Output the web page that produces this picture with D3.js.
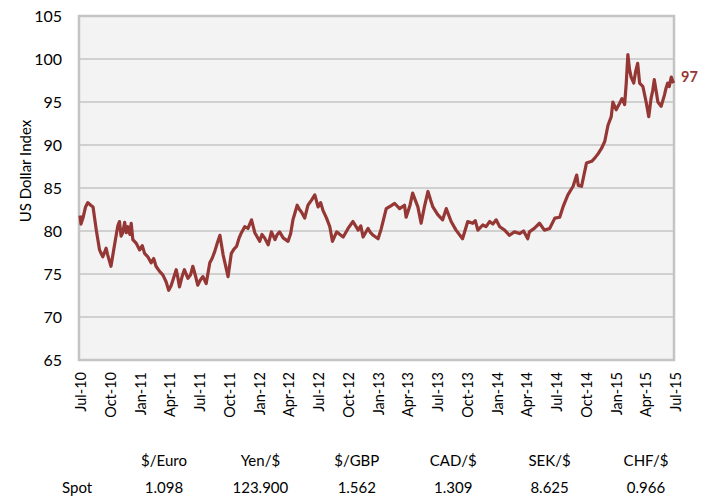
<!DOCTYPE html>
<html>
<head>
<meta charset="utf-8">
<script src="https://cdn.jsdelivr.net/npm/d3@7"></script>
<style>
  body { margin: 0; background: #fff; }
  svg { display: block; font-family: Lato, "Open Sans", sans-serif; }
</style>
</head>
<body>
<svg id="chart" width="710" height="499"></svg>
<script>
// dollar index (approx every 1-2 weeks)
var dates = [
  "2010-07-01","2010-07-04","2010-07-10","2010-07-18","2010-07-25","2010-08-03","2010-08-10","2010-08-20","2010-08-30",
  "2010-09-05","2010-09-09","2010-09-19","2010-09-24","2010-10-04","2010-10-15","2010-10-20","2010-10-25","2010-10-30",
  "2010-11-04","2010-11-09","2010-11-15","2010-11-20","2010-11-25","2010-12-01","2010-12-05","2010-12-10","2010-12-20",
  "2010-12-31","2011-01-08","2011-01-15","2011-01-25","2011-02-04","2011-02-12","2011-02-19","2011-03-02","2011-03-12",
  "2011-03-22","2011-03-30","2011-04-06","2011-04-12","2011-04-22","2011-04-27","2011-05-02","2011-05-10","2011-05-17",
  "2011-05-28","2011-06-05","2011-06-12","2011-06-20","2011-06-27","2011-07-05","2011-07-13","2011-07-23","2011-08-03",
  "2011-08-10","2011-08-18","2011-08-26","2011-09-03","2011-09-13","2011-09-28","2011-10-08","2011-10-16","2011-10-24",
  "2011-11-01","2011-11-08","2011-11-18","2011-11-28","2011-12-09","2011-12-19","2012-01-03","2012-01-10","2012-01-18",
  "2012-01-29","2012-02-08","2012-02-19","2012-02-26","2012-03-04","2012-03-15","2012-03-30","2012-04-07","2012-04-14",
  "2012-04-27","2012-05-04","2012-05-10","2012-05-20","2012-05-30","2012-06-10","2012-06-20","2012-06-30","2012-07-08",
  "2012-07-15","2012-07-26","2012-08-05","2012-08-13","2012-08-26","2012-09-05","2012-09-15","2012-09-30","2012-10-15",
  "2012-10-31","2012-11-08","2012-11-15","2012-11-30","2012-12-08","2012-12-16","2012-12-31","2013-01-10","2013-01-25",
  "2013-02-07","2013-02-20","2013-03-07","2013-03-22","2013-03-27","2013-04-08","2013-04-16","2013-05-02","2013-05-12",
  "2013-05-22","2013-06-02","2013-06-10","2013-06-17","2013-07-02","2013-07-17","2013-07-28","2013-08-12","2013-08-27",
  "2013-09-16","2013-10-02","2013-10-17","2013-10-25","2013-11-02","2013-11-17","2013-11-27","2013-12-08","2013-12-18",
  "2013-12-28","2014-01-08","2014-01-23","2014-02-07","2014-02-22","2014-03-10","2014-03-22","2014-04-04","2014-04-09",
  "2014-04-24","2014-05-10","2014-05-25","2014-06-10","2014-06-26","2014-07-11","2014-07-21","2014-08-05","2014-08-21",
  "2014-09-01","2014-09-06","2014-09-16","2014-10-01","2014-10-17","2014-10-27","2014-11-06","2014-11-16","2014-11-26",
  "2014-12-06","2014-12-16","2014-12-21","2014-12-31","2015-01-10","2015-01-18","2015-01-26","2015-01-31","2015-02-05",
  "2015-02-10","2015-02-15","2015-02-23","2015-03-01","2015-03-07","2015-03-13","2015-03-23","2015-04-02","2015-04-10",
  "2015-04-17","2015-04-22","2015-04-27","2015-05-03","2015-05-08","2015-05-18","2015-05-28","2015-06-02","2015-06-07",
  "2015-06-12","2015-06-18","2015-06-25"
];
var values = [
  81.8,80.8,81.5,82.8,83.3,83.0,82.8,80.1,77.8,
  77.3,77.0,78.0,77.2,75.9,78.4,79.5,80.6,81.1,
  79.4,79.8,81.0,79.8,80.5,79.6,80.9,79.0,78.6,
  77.8,78.3,77.4,77.0,76.3,76.8,75.9,75.3,74.9,
  74.1,73.1,73.6,74.3,75.5,74.6,73.5,74.7,75.5,
  74.5,74.9,75.9,74.8,73.7,74.3,74.7,73.9,76.3,
  76.8,77.6,78.6,79.5,77.2,74.7,77.4,77.9,78.2,
  79.2,79.8,80.5,80.3,81.3,79.8,78.8,79.6,79.2,
  78.4,79.9,79.0,79.6,79.9,79.2,78.8,79.7,81.3,
  83.0,82.5,82.2,81.5,83.0,83.6,84.2,82.8,83.3,
  82.4,81.5,80.5,78.8,79.9,79.6,79.3,80.3,81.1,
  80.1,80.6,79.3,80.3,79.8,79.5,79.1,80.3,82.6,
  82.9,83.2,82.6,83.0,81.6,83.0,84.4,82.8,80.9,
  82.8,84.6,83.6,82.8,81.9,81.3,82.6,81.1,80.1,
  79.1,81.1,80.9,81.2,80.1,80.7,80.5,81.1,80.8,
  81.3,80.5,80.1,79.5,79.9,79.7,80.0,79.1,79.9,
  80.3,80.9,80.1,80.3,81.5,81.6,82.8,84.2,85.2,
  86.5,85.3,85.2,87.9,88.1,88.5,89.0,89.6,90.4,
  92.3,93.3,95.0,94.1,94.8,95.4,94.7,97.2,100.5,
  98.8,97.9,97.2,98.6,99.5,97.2,96.8,95.0,93.3,
  95.4,96.3,97.6,96.2,95.0,94.5,95.8,96.6,97.2,
  96.8,97.9,97.2
];
var lastLabel = "97";

var yTicks = [65, 70, 75, 80, 85, 90, 95, 100, 105];

// spot table under the chart
var currencies = ["$/Euro", "Yen/$", "$/GBP", "CAD/$", "SEK/$", "CHF/$"];
var spot = ["1.098", "123.900", "1.562", "1.309", "8.625", "0.966"];

var red = "#953735";
var svg = d3.select("#chart");
var parse = d3.timeParse("%Y-%m-%d");

var data = dates.map(function(d, i) {
  return { date: parse(d), value: values[i] };
});

var plot = { left: 79, right: 674, top: 16, bottom: 360 };

var x = d3.scaleTime()
  .domain([new Date(2010, 6, 1), new Date(2015, 6, 1)])
  .range([80, 675.5]);
var y = d3.scaleLinear()
  .domain([65, 105])
  .range([plot.bottom, plot.top]);

// plot background
svg.append("rect")
  .attr("x", plot.left)
  .attr("y", plot.top)
  .attr("width", plot.right - plot.left)
  .attr("height", plot.bottom - plot.top)
  .attr("fill", "#f3f3f3");

// gridlines
svg.append("g")
  .selectAll("line")
  .data(yTicks.slice(1, -1))
  .enter()
  .append("line")
  .attr("x1", plot.left)
  .attr("x2", plot.right)
  .attr("y1", function(d) { return y(d); })
  .attr("y2", function(d) { return y(d); })
  .attr("stroke", "#c4c4c4")
  .attr("stroke-width", 1.3);

// border
svg.append("rect")
  .attr("x", plot.left)
  .attr("y", plot.top)
  .attr("width", plot.right - plot.left)
  .attr("height", plot.bottom - plot.top)
  .attr("fill", "none")
  .attr("stroke", "#c4c4c4")
  .attr("stroke-width", 2.5);

// y axis
var yAxis = svg.append("g")
  .attr("transform", "translate(" + (plot.left - 15) + ",0)")
  .call(d3.axisLeft(y).tickValues(yTicks).tickSize(0).tickPadding(2));
yAxis.select(".domain").remove();
yAxis.selectAll("text")
  .attr("font-size", 16)
  .attr("font-family", "Lato, sans-serif")
  .attr("fill", "#000");

svg.append("text")
  .attr("transform", "translate(31,171) rotate(-90)")
  .attr("text-anchor", "middle")
  .attr("font-size", 15)
  .attr("fill", "#000")
  .text("US Dollar Index");

// x axis, quarterly
var xTicks = d3.timeMonth.every(3).range(new Date(2010, 6, 1), new Date(2015, 6, 2));
var xAxis = svg.append("g")
  .attr("transform", "translate(0," + (plot.bottom + 12) + ")")
  .call(d3.axisBottom(x).tickValues(xTicks).tickFormat(d3.timeFormat("%b-%y")).tickSize(0).tickPadding(0));
xAxis.select(".domain").remove();
xAxis.selectAll("text")
  .attr("font-size", 14.5)
  .attr("font-family", "Lato, sans-serif")
  .attr("fill", "#000")
  .attr("text-anchor", "end")
  .attr("dy", "0.35em")
  .attr("transform", "rotate(-90)")
  .attr("x", 0)
  .attr("y", 0);

// the line
var line = d3.line()
  .x(function(d) { return x(d.date); })
  .y(function(d) { return y(d.value); });

svg.append("path")
  .datum(data)
  .attr("d", line)
  .attr("fill", "none")
  .attr("stroke", red)
  .attr("stroke-width", 3.2)
  .attr("stroke-linejoin", "round");

var last = data[data.length - 1];
svg.append("text")
  .attr("x", plot.right + 7)
  .attr("y", y(last.value) - 6)
  .attr("dy", "0.35em")
  .attr("font-size", 14.5)
  .attr("font-weight", "bold")
  .attr("fill", red)
  .text(lastLabel);

// table
var colX = d3.scalePoint()
  .domain(currencies)
  .range([164, 646]);

svg.append("g")
  .selectAll("text")
  .data(currencies)
  .enter()
  .append("text")
  .attr("x", function(d) { return colX(d); })
  .attr("y", 466)
  .attr("text-anchor", "middle")
  .attr("font-size", 15)
  .text(function(d) { return d; });

svg.append("g")
  .selectAll("text")
  .data(spot)
  .enter()
  .append("text")
  .attr("x", function(d, i) { return colX(currencies[i]); })
  .attr("y", 493)
  .attr("text-anchor", "middle")
  .attr("font-size", 15)
  .text(function(d) { return d; });

svg.append("text")
  .attr("x", 62)
  .attr("y", 493)
  .attr("font-size", 15)
  .text("Spot");
</script>
</body>
</html>
